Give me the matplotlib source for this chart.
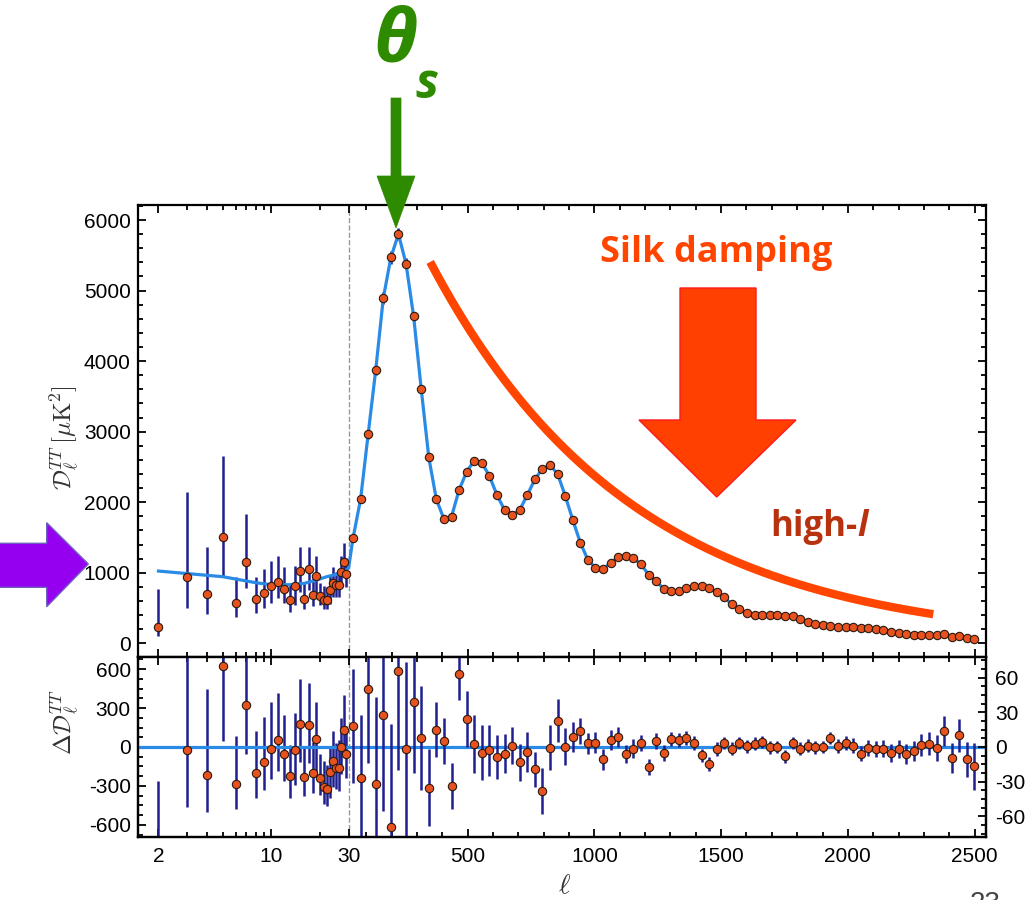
import numpy as np
import matplotlib
matplotlib.use("Agg")
import matplotlib.pyplot as plt
from matplotlib.patches import Polygon
from matplotlib.text import Annotation
from matplotlib.ticker import FixedLocator, AutoMinorLocator, MultipleLocator

plt.rcParams['mathtext.fontset'] = 'cm'
plt.rcParams['font.family'] = ['Liberation Sans', 'DejaVu Sans']
plt.rcParams['axes.unicode_minus'] = False

# ---- low-ell (unbinned) spectrum, ell = 2..29 ----
ell_lo = np.arange(2, 30)
dl_lo = [235, 944, 699, 1511, 567, 1156, 623, 708, 812, 873, 774, 614, 812, 1029,
         632, 1048, 680, 954, 670, 614, 614, 755, 859, 826, 826, 1015, 1156, 982]
dl_lo_up = [530, 1204, 661, 1143, 368, 672, 321, 345, 358, 364, 303, 245, 283, 340,
            227, 321, 241, 283, 189, 198, 180, 199, 227, 189, 213, 222, 270, 222]
dl_lo_dn = [132, 439, 288, 576, 190, 377, 189, 212, 237, 235, 207, 166, 269, 298,
            150, 293, 151, 294, 127, 132, 132, 198, 199, 166, 174, 213, 188, 180]
res_lo = [-789, -23, -216, 626, -286, 322, -201, -116, -13, 54, -57, -227, -23, 180,
          -229, 173, -201, 62, -240, -309, -322, -193, -106, -160, -162, 3, 131, -57]

# ---- high-ell binned spectrum (bins of 30) ----
ell_hi = 47.5 + 29.9 * np.arange(83)
dl_hi = [1488, 2041, 2962, 3874, 4894, 5470, 5801, 5381, 4634, 3609,
         2636, 2041, 1762, 1795, 2173, 2433, 2589, 2560, 2371, 2102,
         1890, 1823, 1890, 2102, 2324, 2475, 2527, 2400, 2093, 1748,
         1427, 1181, 1072, 1053, 1143, 1219, 1238, 1209, 1119, 973,
         883, 770, 742, 746, 784, 813, 817, 782, 731, 651,
         552, 481, 425, 401, 401, 401, 406, 392, 382, 340,
         307, 278, 255, 245, 236, 236, 231, 222, 222, 198,
         184, 160, 141, 127, 122, 122, 122, 113, 127, 94,
         108, 75, 66]
err_hi = [49, 54, 64, 75, 83, 89, 85, 75, 61, 45,
          33, 24, 20, 20, 22, 24, 25, 24, 22, 19,
          17, 16, 16, 17, 15, 20, 19.5, 18.5, 16, 13,
          11, 9, 9, 9, 8.5, 8.5, 8, 8, 7, 7,
          7, 7, 6, 6, 6, 6, 6, 6, 6, 5.5,
          5.5, 5.5, 5.5, 5.5, 5.5, 5.5, 5.5, 5.5, 5.5, 5.5,
          5.5, 5.5, 5.5, 5.5, 6, 6, 6.5, 6.5, 7, 7,
          7.5, 7.5, 8, 8.5, 9, 9.5, 10, 11, 13, 13,
          14, 15, 20]
res_hi = [18.3, -26.7, 50.4, -31.9, 27.8, -69, 65.5, -1.7, 38.8, 7.5,
          -35, 15, 5.3, -33.5, 62.9, 24.2, 2.5, -4.9, -2.9, -8.7,
          -5.8, 0.9, -13, -4.3, -19.4, -38.3, -0.6, 22.6, 0.3, 8.4,
          13.9, 3.2, 3.8, -10.7, 6.1, 8.4, -6.1, -1.4, 3.2, -17.4,
          5.5, -4.9, 7.2, 6.1, 8.1, 3.2, -7.3, -14.3, -1.5, 3.5,
          -1.4, 3.5, 0.6, 2.9, 4.3, -0.3, 0, -8.1, 3.5, -1.4,
          1.2, -0.3, 0, 7.8, 0.6, 3.5, 1.2, -5.8, -0.9, -1.4,
          -1.4, -5.2, -1.7, -5.8, -3.5, 1.7, 2.9, -0.9, 13.9, -9.6,
          10.1, -10.7, -16.8]

# best-fit model at low ell (high ell follows the binned points)
model_ell_lo = [2, 5, 8, 10, 13, 16, 19, 22, 25, 28, 30]
model_dl_lo = [1024, 944, 859, 830, 830, 850, 897, 944, 975, 1010, 1065]

# hand-drawn "Silk damping" envelope
silk_ell = [352, 443, 577, 707, 837, 971, 1102, 1232, 1366, 1496, 1682, 1812, 1942, 2076, 2207, 2337]
silk_dl = [5733, 4911, 3834, 3211, 2786, 2460, 2134, 1893, 1610, 1327, 945, 789, 661, 571, 500, 429]

x_major = [2, 10, 30, 500, 1000, 1500, 2000, 2500]
x_minor = [3, 4, 5, 6, 7, 8, 9, 20] + [v for v in range(100, 2500, 100) if v % 500]

# log below ell=30, linear above
K = 637.6


def fwd(l):
    l = np.asarray(l, float)
    return np.where(l < 30, 30 + K * np.log10(np.maximum(l, 1e-6) / 30), l)


def inv(u):
    u = np.asarray(u, float)
    return np.where(u < 30, 30 * 10 ** ((np.minimum(u, 30) - 30) / K), u)


W, H = 1033, 900
fig = plt.figure(figsize=(W / 100, H / 100), dpi=100)


def fx(px):
    return px / W


def fy(py):
    return 1 - py / H


ax = fig.add_axes([fx(138.3), fy(656.7), fx(986) - fx(138.3), fy(205) - fy(656.7)])
axr = fig.add_axes([fx(138.3), fy(837.3), fx(986) - fx(138.3), fy(656.7) - fy(837.3)])

red_pt = '#e8521e'
bar_col = '#1f1f8f'
model_col = '#2a8be6'


def points(a, x, y, yerr):
    # bars below the model line, markers on top
    a.errorbar(x, y, yerr=yerr, fmt='none', ecolor=bar_col, elinewidth=1.8, capsize=0, zorder=2)
    a.plot(x, y, 'o', ms=6, mfc=red_pt, mec='#2a1a10', mew=0.8, zorder=4)


for a in (ax, axr):
    a.set_xscale('function', functions=(fwd, inv))
    a.set_xlim(1.5, 2545)
    a.xaxis.set_major_locator(FixedLocator(x_major))
    a.xaxis.set_minor_locator(FixedLocator(x_minor))
    a.axvline(30, color='#999999', ls='--', lw=1, zorder=1)
    for s in a.spines.values():
        s.set_linewidth(1.6)

# top panel
ax.plot(model_ell_lo + list(ell_hi), model_dl_lo + dl_hi, color=model_col, lw=2.3, zorder=3)
points(ax, ell_lo, dl_lo, [dl_lo_dn, dl_lo_up])
points(ax, ell_hi, dl_hi, err_hi)
ax.set_ylim(-190, 6213)
ax.yaxis.set_major_locator(MultipleLocator(1000))
ax.yaxis.set_minor_locator(AutoMinorLocator(5))
ax.tick_params(which='both', direction='in', top=True, right=True, labelbottom=False,
               labelsize=15, pad=5.5, width=1.3)
ax.tick_params(which='major', length=6)
ax.tick_params(which='minor', length=3.5)
ax.set_ylabel(r'$\mathcal{D}_\ell^{TT}\,[\mu{\rm K}^2]$', fontsize=18, color='#333333')
ax.yaxis.set_label_coords(-0.068, 0.486)

# silk damping envelope
coef = np.polyfit(silk_ell, np.log(silk_dl), 3)
sx = np.linspace(silk_ell[0], silk_ell[-1], 300)
ax.plot(sx, np.exp(np.polyval(coef, sx)), color='#ff4500', lw=6, solid_capstyle='butt', zorder=5)

# residual panel
axr2 = axr.twinx()
axr.axhline(0, color=model_col, lw=2.3, zorder=3)
points(axr, ell_lo, res_lo, [dl_lo_dn, dl_lo_up])
points(axr2, ell_hi, res_hi, err_hi)
axr.set_ylim(-695, 695)
axr2.set_ylim(-78, 78)
axr.yaxis.set_major_locator(FixedLocator([-600, -300, 0, 300, 600]))
axr.yaxis.set_minor_locator(MultipleLocator(75))
axr2.yaxis.set_major_locator(FixedLocator([-60, -30, 0, 30, 60]))
axr2.yaxis.set_minor_locator(MultipleLocator(7.5))
axr.tick_params(which='both', direction='in', top=True, right=False, labelsize=15, pad=5.5, width=1.3)
axr.tick_params(axis='x', pad=7)
axr.tick_params(which='major', length=6)
axr.tick_params(which='minor', length=3.5)
axr2.tick_params(which='both', direction='in', labelsize=15, pad=6.5, width=1.3)
axr2.tick_params(which='major', length=6)
axr2.tick_params(which='minor', length=3.5)
for s in axr2.spines.values():
    s.set_linewidth(1.6)
axr.set_xticklabels([str(v) for v in x_major])
axr.set_ylabel(r'$\Delta\mathcal{D}_\ell^{TT}$', fontsize=18, color='#333333')
axr.yaxis.set_label_coords(-0.068, 0.638)
axr.set_xlabel(r'$\ell$', fontsize=20, color='#333333')
axr.xaxis.set_label_coords(0.503, -0.2)


def arrow_poly(pts, face, edge, lw=1.0):
    p = Polygon([(fx(x), fy(y)) for x, y in pts], closed=True, transform=fig.transFigure,
                facecolor=face, edgecolor=edge, lw=lw)
    fig.patches.append(p)


# theta_s arrow
green = '#2e8b00'
arrow_poly([(391, 98), (401, 98), (401, 176), (415, 176), (396, 228), (377, 176), (391, 176)],
           green, green, 0.5)
fig.text(fx(395), fy(42), 'θ', fontsize=54, fontweight='bold', style='italic', color=green,
         ha='center', va='center', family='Open Sans')
fig.text(fx(427), fy(85), 's', fontsize=35, fontweight='bold', style='italic', color=green,
         ha='center', va='center', family='Open Sans')

# silk damping arrow + labels
arrow_poly([(680, 288), (756, 288), (756, 420), (796, 420), (716.7, 497), (639, 420), (680, 420)],
           '#ff4000', '#ff1a1a', 1.0)
fig.text(fx(716), fy(262), 'Silk damping', fontsize=26, fontweight='bold', color='#ff4500',
         ha='center', va='baseline', family='Open Sans')
t_high = fig.text(fx(770), fy(536), 'high-', fontsize=25, fontweight='bold', color='#b83210',
                  ha='left', va='baseline', family='Open Sans')
ann = Annotation('l', xy=(1, 0), xycoords=t_high, va='bottom', ha='left',
                 fontsize=25, fontweight='bold', style='italic', color='#b83210', family='Open Sans')
ann.set_figure(fig)
fig.texts.append(ann)

# purple arrow at the low-ell side
arrow_poly([(-5, 543.3), (46.7, 543.3), (46.7, 522.7), (88.3, 564), (46.7, 606.7), (46.7, 587.3), (-5, 587.3)],
           '#9600f0', '#6f5fc0', 1.0)

# partially visible slide number at the bottom edge
fig.text(fx(985), fy(891), '23', fontsize=20, color='#444444', ha='center', va='top')

fig.savefig('out.png', dpi=100)
